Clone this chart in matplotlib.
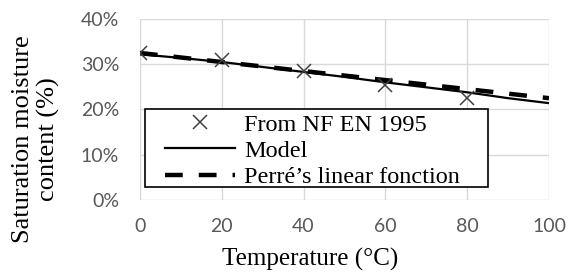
import matplotlib
matplotlib.use("Agg")
import matplotlib.pyplot as plt
from matplotlib.ticker import FuncFormatter
from matplotlib.patches import Rectangle

temp_nf = [0, 20, 40, 60, 80]
sat_nf = [32.4, 30.9, 28.4, 25.4, 22.6]

temp_model = [0, 10, 20, 30, 40, 50, 60, 70, 80, 90, 100]
sat_model = [32.2, 31.4, 30.5, 29.4, 28.3, 27.2, 26.0, 24.9, 23.8, 22.5, 21.4]

temp_perre = [0, 100]
sat_perre = [32.5, 22.5]

x_ticks = [0, 20, 40, 60, 80, 100]
y_ticks = [0, 10, 20, 30, 40]

serif = ["Liberation Serif", "DejaVu Serif"]
sans = ["Lato", "DejaVu Sans"]

fig = plt.figure(figsize=(5.71, 2.72), dpi=100)
ax = fig.add_axes([0.245, 0.265, 0.7165, 0.665])

ax.plot(temp_model, sat_model, color="black", lw=1.6, label="Model", zorder=2)
ax.plot(temp_perre, sat_perre, color="black", lw=3.2, dashes=(4.0, 3.6),
        label="Perré\u2019s linear fonction", zorder=2.5)
ax.plot(temp_nf, sat_nf, linestyle="none", marker="x", ms=10, mew=1.1,
        color="#404040", label="From NF EN 1995", zorder=3)

ax.set_xlim(0, 100)
ax.set_ylim(0, 40)
ax.set_xticks(x_ticks)
ax.set_yticks(y_ticks)
ax.yaxis.set_major_formatter(FuncFormatter(lambda v, p: f"{int(v)}%"))
for s in ax.spines.values():
    s.set_visible(False)
ax.grid(True, color="#d9d9d9", lw=1)
ax.set_axisbelow(True)
ax.tick_params(axis="y", length=0, labelsize=14, labelcolor="#595959", pad=15)
ax.tick_params(axis="x", length=0, labelsize=14, labelcolor="#595959", pad=13)
for lab in ax.get_xticklabels() + ax.get_yticklabels():
    lab.set_fontfamily(sans)

fig.text(310 / 571, 1 - 266 / 272, "Temperature (°C)", family=serif,
         fontsize=18, ha="center", va="baseline")
fig.text(36 / 571, 1 - 139.5 / 272, "Saturation moisture\ncontent (%)",
         family=serif, fontsize=19, rotation=90, ha="center", va="center",
         multialignment="center", linespacing=1.12)

# legend frame (Excel style, wider than content)
ax.add_patch(Rectangle((5 / 409, 13 / 181), 343 / 409, 78 / 181,
                       transform=ax.transAxes, facecolor="white",
                       edgecolor="black", lw=1.2, zorder=4, clip_on=False))

h, l = ax.get_legend_handles_labels()
order = [2, 0, 1]
leg = ax.legend([h[i] for i in order], [l[i] for i in order],
                loc="center left", bbox_to_anchor=(25 / 409, 49 / 181),
                prop={"family": serif, "size": 17.5}, frameon=False,
                borderpad=0, labelspacing=0.18, handlelength=2.9,
                handletextpad=0.36, borderaxespad=0)
leg.set_zorder(5)

fig.savefig("out.png", dpi=100)
